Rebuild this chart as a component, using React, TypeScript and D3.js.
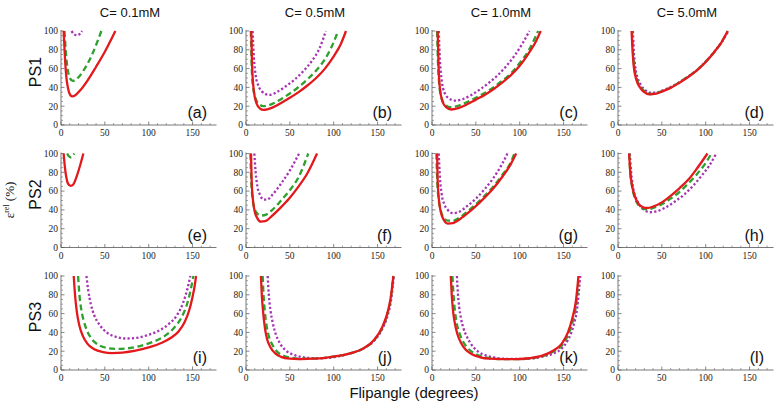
import React from 'react';
import * as d3 from 'd3';

// column / row labels
const concentrations = ['C= 0.1mM', 'C= 0.5mM', 'C= 1.0mM', 'C= 5.0mM'];
const rowLabels = ['PS1', 'PS2', 'PS3'];
const panelLetters = ['(a)', '(b)', '(c)', '(d)', '(e)', '(f)', '(g)', '(h)', '(i)', '(j)', '(k)', '(l)'];
const xTicks = [0, 50, 100, 150];
const yTicks = [0, 20, 40, 60, 80, 100];

type Pt = [number, number];

// PS1
const aSolid: Pt[] = [[3, 100], [4.5, 72], [6, 52], [8, 39], [10.5, 32], [13, 30.5], [16, 31.5], [22, 37], [30, 47], [40, 62], [50, 78], [62, 100]];
const aDashed: Pt[] = [[4, 100], [5.5, 78], [7.5, 60], [10, 50], [13.5, 47], [18, 49], [25, 57], [35, 74], [46, 100]];
const aDotted: Pt[] = [[12, 100], [15, 96.5], [18, 95.5], [21, 96.5], [24, 100]];

const bSolid: Pt[] = [[6, 100], [7, 62], [9, 36], [12, 23], [16, 17.5], [20, 16], [30, 18.5], [40, 23.5], [50, 29], [60, 35], [70, 42], [80, 50], [90, 60], [100, 73], [108, 86], [114, 100]];
const bDashed: Pt[] = [[5.5, 100], [6.5, 62], [8, 41], [11, 28], [15, 22], [20, 20], [30, 22.5], [40, 27.5], [50, 33.5], [60, 40.5], [70, 48.5], [80, 58], [90, 70], [98, 84], [105, 100]];
const bDotted: Pt[] = [[7.5, 100], [9, 72], [11, 53], [14, 42], [18, 36], [22, 33], [27, 32], [35, 35], [45, 41], [55, 48], [65, 57], [75, 68], [84, 82], [91, 100]];

const cSolid: Pt[] = [[6.5, 100], [7.5, 62], [9, 39], [12, 25], [16, 19], [22, 16.5], [30, 18], [40, 22], [50, 27], [60, 32], [70, 38], [80, 45], [90, 53], [100, 63], [110, 76], [118, 88], [124, 100]];
const cDashed: Pt[] = [[5.8, 100], [7, 62], [8.5, 41], [11, 28], [15, 21.5], [21, 19], [30, 20.5], [40, 24.5], [50, 29], [60, 34], [70, 40], [80, 47], [90, 55], [100, 66], [110, 79], [121, 100]];
const cDotted: Pt[] = [[7.7, 100], [9, 70], [11, 48], [14, 35], [19, 28.5], [26, 26], [35, 27.5], [45, 32], [55, 38], [65, 45], [75, 53], [85, 63], [95, 75], [104, 88], [111, 100]];

const dSolid: Pt[] = [[15.5, 100], [16.5, 80], [18, 62], [21, 48], [25, 40], [30, 35], [36, 32.5], [42, 33], [50, 35.5], [60, 39.5], [70, 45], [80, 51], [90, 58], [100, 67], [110, 78], [118, 88], [125, 100]];
const dDashed: Pt[] = [[16, 100], [17, 80], [18.5, 62], [21.5, 49], [25.5, 41], [30, 36], [36, 33], [42, 33.5], [50, 36], [60, 40], [70, 45.5], [80, 51.5], [90, 58.5], [100, 67.5], [110, 78], [118, 88], [125, 100]];
const dDotted: Pt[] = [[17, 100], [18, 80], [19.5, 63], [22.5, 50], [26.5, 42], [31, 37], [37, 34.5], [43, 34.5], [50, 36.5], [60, 40.5], [70, 45.5], [80, 51.5], [90, 58.5], [100, 67.5], [110, 78], [118, 88], [126, 100]];

// PS2
const eSolid: Pt[] = [[3, 100], [4.5, 85], [6, 75], [8, 68], [11, 65.5], [14, 67], [18, 76], [22, 88], [25.5, 100]];
const eDashed: Pt[] = [[7, 100], [9, 97], [11, 96], [13, 97], [15, 100]];
const eDotted: Pt[] = [];

const fSolid: Pt[] = [[5.7, 100], [6.5, 70], [8, 50], [10, 38], [13, 31], [17, 27.5], [22, 28], [30, 34], [40, 43], [50, 53], [60, 65], [70, 79], [81, 100]];
const fDashed: Pt[] = [[5, 100], [6, 70], [7.5, 52], [9.5, 42], [13, 36], [17, 34], [23, 35], [30, 40], [40, 50], [50, 61], [60, 75], [71, 100]];
const fDotted: Pt[] = [[9.5, 100], [11, 80], [13, 65], [16, 56], [20, 51], [24, 51], [30, 56], [40, 68], [50, 82], [60.5, 100]];

const gSolid: Pt[] = [[5.8, 100], [6.5, 70], [8, 50], [10, 38], [13, 30], [18, 25.5], [24, 26], [30, 29], [40, 36], [50, 44], [60, 53], [70, 63], [80, 75], [90, 89], [96, 100]];
const gDashed: Pt[] = [[5, 100], [6, 70], [7.5, 52], [9.5, 41], [12.5, 33], [18, 28.5], [24, 28.5], [30, 31], [40, 38], [50, 46], [60, 55], [70, 65], [80, 77], [90, 91], [94, 100]];
const gDotted: Pt[] = [[7.7, 100], [9, 75], [11, 57], [14, 46], [18, 40], [24, 36.5], [30, 37.5], [40, 44], [50, 52], [60, 62], [70, 74], [80, 89], [86, 100]];

const hSolid: Pt[] = [[12.7, 100], [14, 80], [16, 66], [19, 55], [23, 47], [28, 43], [33, 42], [40, 43.5], [50, 48], [60, 55], [70, 63], [80, 72], [90, 84], [102, 100]];
const hDashed: Pt[] = [[12.7, 100], [14, 80], [16, 65], [19, 53], [23, 45.5], [28, 41.5], [33, 40.5], [40, 42], [50, 46], [60, 52], [70, 59], [80, 68], [90, 78], [100, 90], [106.5, 100]];
const hDotted: Pt[] = [[13.5, 100], [15, 80], [17, 65], [20, 54], [24, 46], [29, 40.5], [36, 37.5], [44, 38.5], [55, 43], [65, 49], [75, 56], [85, 65], [95, 76], [104, 87], [112, 100]];

// PS3
const iSolid: Pt[] = [[14.5, 100], [16, 80], [18, 62], [21, 47], [25, 36], [30, 28], [38, 22], [48, 19], [58, 18], [70, 18.5], [85, 20.5], [100, 24], [115, 29], [125, 34], [134, 41], [141, 51], [146, 63], [150, 78], [152.5, 90], [154, 100]];
const iDashed: Pt[] = [[19.5, 100], [21, 80], [23, 65], [26, 52], [30, 41], [36, 32], [44, 26], [52, 23.5], [62, 22.5], [75, 23], [90, 25.5], [105, 30], [118, 36], [129, 45], [138, 57], [144, 71], [148, 86], [151, 100]];
const iDotted: Pt[] = [[29, 100], [31, 85], [34, 70], [38, 58], [44, 48], [52, 40], [62, 35.5], [75, 33.5], [88, 34.5], [100, 37.5], [112, 42], [123, 49], [132, 58], [139, 71], [144, 86], [147.5, 100]];

const jSolid: Pt[] = [[17, 100], [18, 80], [19.5, 62], [21.5, 45], [24, 33], [28, 24], [33, 18], [40, 14], [50, 12], [60, 11.5], [75, 12], [90, 13], [105, 15], [120, 18], [134, 23], [146, 32], [155, 45], [161, 60], [165, 77], [168, 100]];
const jDashed: Pt[] = [[19, 100], [20, 80], [21.5, 62], [23.5, 47], [26, 36], [30, 27], [35, 20], [42, 15.5], [52, 13], [62, 12], [75, 12.2], [90, 13], [105, 15], [120, 18], [134, 23], [146, 31.5], [155, 44], [161, 59], [165, 76], [168, 100]];
const jDotted: Pt[] = [[24.7, 100], [26, 80], [28, 63], [30.5, 50], [34, 38], [39, 28], [45, 21], [52, 17], [60, 14.5], [70, 13], [82, 12.5], [95, 13], [108, 15], [120, 18], [134, 23], [146, 31], [155, 43], [161.5, 58], [165.5, 75], [168.5, 100]];

const kSolid: Pt[] = [[21.4, 100], [22.5, 80], [24, 63], [26, 50], [29, 38], [33, 29], [38, 22], [45, 17], [55, 13.5], [65, 12], [80, 11.5], [95, 11.5], [110, 12.5], [125, 15], [138, 20.5], [148, 28], [155, 40], [160, 55], [164, 73], [167, 100]];
const kDashed: Pt[] = [[23.3, 100], [24.5, 80], [26, 64], [28, 51], [31, 40], [35, 31], [40, 24], [47, 18.5], [56, 14.5], [66, 12.5], [80, 11.5], [95, 11.5], [110, 12], [125, 14.5], [138, 19.5], [148, 26], [155, 37], [160.5, 52], [164.5, 71], [167.5, 100]];
const kDotted: Pt[] = [[28.4, 100], [29.5, 82], [31, 67], [33, 55], [36, 44], [40, 35], [45, 27], [52, 20], [60, 16], [70, 13.5], [82, 12], [95, 11.8], [110, 12], [125, 14], [138, 17.5], [148, 23], [155, 32], [161, 46], [165.5, 66], [169, 100]];

const solids = [aSolid, bSolid, cSolid, dSolid, eSolid, fSolid, gSolid, hSolid, iSolid, jSolid, kSolid, []];
const dashes = [aDashed, bDashed, cDashed, dDashed, eDashed, fDashed, gDashed, hDashed, iDashed, jDashed, kDashed, []];
const dots = [aDotted, bDotted, cDotted, dDotted, eDotted, fDotted, gDotted, hDotted, iDotted, jDotted, kDotted, []];

const RED = '#e3191c';
const GREEN = '#2ea02e';
const PURPLE = '#a632b4';

const colX = [61, 246, 432, 618];
const rowTop = [31, 153.5, 276];
const plotW = 153.5;
const plotH = 94;
const serif = '"Liberation Serif", "Times New Roman", serif';
const sans = '"Liberation Sans", Arial, sans-serif';

function Panel({ idx }: { idx: number }) {
  const col = idx % 4;
  const row = Math.floor(idx / 4);
  const x0 = colX[col];
  const top = rowTop[row];
  const x = d3.scaleLinear().domain([0, 175]).range([x0, x0 + plotW]);
  const y = d3.scaleLinear().domain([0, 100]).range([top + plotH, top]);
  const line = d3.line<Pt>().x(d => x(d[0])).y(d => y(d[1])).curve(d3.curveMonotoneX);
  const clipId = `clip${idx}`;
  const xMinor = d3.range(10, 180, 10).filter(v => v % 50 !== 0);
  const yMinor = d3.range(5, 100, 5).filter(v => v % 20 !== 0);
  const y0 = y(0);

  const series = [
    { data: dots[idx], color: PURPLE, dash: '2.2,2.2' },
    { data: dashes[idx], color: GREEN, dash: '6,3.5' },
    { data: solids[idx], color: RED, dash: undefined },
  ];

  return (
    <g>
      <defs>
        <clipPath id={clipId}>
          <rect x={x0} y={top - 1} width={plotW + 2} height={plotH + 2} />
        </clipPath>
      </defs>
      {/* axes */}
      <line x1={x0} x2={x0 + plotW + 2} y1={y0} y2={y0} stroke="#555" strokeWidth={0.8} />
      <line x1={x0} x2={x0} y1={y0} y2={y(100) - 1} stroke="#555" strokeWidth={0.8} />
      {xTicks.map(t => (
        <g key={'xt' + t}>
          <line x1={x(t)} x2={x(t)} y1={y0} y2={y0 - 3.5} stroke="#555" strokeWidth={0.7} />
          <text x={x(t)} y={y0 + 11} textAnchor="middle" fontFamily={serif} fontSize={9.5} fill="#222">{t}</text>
        </g>
      ))}
      {xMinor.map(t => (
        <line key={'xm' + t} x1={x(t)} x2={x(t)} y1={y0} y2={y0 - 2} stroke="#666" strokeWidth={0.6} />
      ))}
      {yTicks.map(t => (
        <g key={'yt' + t}>
          <line x1={x0} x2={x0 + 3.5} y1={y(t)} y2={y(t)} stroke="#555" strokeWidth={0.7} />
          <text x={x0 - 3} y={y(t) + 3.3} textAnchor="end" fontFamily={serif} fontSize={9.5} fill="#222">{t}</text>
        </g>
      ))}
      {yMinor.map(t => (
        <line key={'ym' + t} x1={x0} x2={x0 + 2} y1={y(t)} y2={y(t)} stroke="#666" strokeWidth={0.6} />
      ))}
      <g clipPath={`url(#${clipId})`}>
        {series.map((s, i) =>
          s.data.length ? (
            <path key={i} d={line(s.data) || ''} fill="none" stroke={s.color} strokeWidth={2.3}
              strokeDasharray={s.dash} strokeLinejoin="round" />
          ) : null
        )}
      </g>
      <text x={x0 + 146} y={y0 - 7} textAnchor="end" fontFamily={sans} fontSize={16} fill="#111">
        {panelLetters[idx]}
      </text>
    </g>
  );
}

export default function App() {
  return (
    <svg width={780} height={410} style={{ position: 'absolute', left: 0, top: 0, background: '#fff' }}>
      <rect width={780} height={410} fill="#fff" />
      {concentrations.map((c, i) => (
        <text key={c} x={colX[i] + 69} y={17} textAnchor="middle" fontFamily={sans} fontSize={13} fill="#111">{c}</text>
      ))}
      {rowLabels.map((r, j) => (
        <text key={r} transform={`translate(41,${rowTop[j] + plotH / 2 - 6}) rotate(-90)`} textAnchor="middle"
          fontFamily={sans} fontSize={16} fill="#111">{r}</text>
      ))}
      <text transform="translate(14,200) rotate(-90)" textAnchor="middle" fontFamily={serif} fontSize={13} fill="#111">
        ε<tspan fontSize={8} dy={-5}>rel</tspan><tspan dy={5}> (%)</tspan>
      </text>
      {panelLetters.map((_, i) => <Panel key={i} idx={i} />)}
      <text x={414} y={398} textAnchor="middle" fontFamily={sans} fontSize={15} fill="#111">Flipangle (degrees)</text>
    </svg>
  );
}
